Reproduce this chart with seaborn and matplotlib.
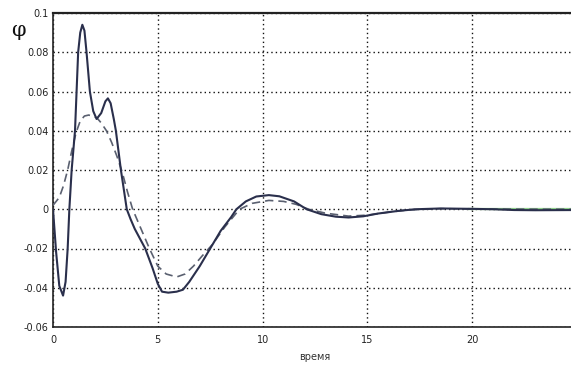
import numpy as np
import pandas as pd
import matplotlib
matplotlib.use("Agg")
import matplotlib.pyplot as plt
import seaborn as sns

# --- data ---
t_solid = [0.0, 0.15, 0.3, 0.48, 0.6, 0.7, 0.78, 0.89, 1.05, 1.2, 1.3, 1.4, 1.5, 1.6, 1.76, 1.92,
           2.08, 2.3, 2.5, 2.62, 2.75, 2.9, 3.0, 3.24, 3.52, 3.7, 3.9, 4.2, 4.4, 4.75, 5.0, 5.2,
           5.5, 5.9, 6.2, 6.5, 7.0, 7.5, 8.0, 8.5, 8.75, 9.2, 9.7, 10.3, 10.8, 11.5, 12.1, 12.8,
           13.5, 14.1, 14.8, 15.5, 16.5, 17.3, 18.5, 20.0, 21.0, 22.0, 23.0, 25.0]
y_solid = [0.000, -0.022, -0.039, -0.044, -0.037, -0.020, 0.000, 0.020, 0.040, 0.080, 0.090, 0.094,
           0.091, 0.080, 0.060, 0.050, 0.046, 0.049, 0.055, 0.0565, 0.054, 0.046, 0.040, 0.020, 0.000,
           -0.005, -0.010, -0.016, -0.020, -0.030, -0.038, -0.042, -0.0425, -0.042, -0.041, -0.037,
           -0.029, -0.020, -0.011, -0.004, 0.000, 0.004, 0.0065, 0.0072, 0.0066, 0.004, 0.000, -0.0025,
           -0.0038, -0.0042, -0.0036, -0.0022, -0.0008, 0.000, 0.0004, 0.0002, 0.0, -0.0004, -0.0005,
           -0.0004]

t_dash = [0.0, 0.3, 0.5, 0.7, 0.9, 1.1, 1.3, 1.5, 1.7, 1.9, 2.1, 2.3, 2.55, 2.8, 3.05, 3.3, 3.55,
          3.8, 4.2, 4.6, 5.0, 5.4, 5.9, 6.3, 6.7, 7.1, 7.6, 8.2, 8.9, 9.5, 10.3, 11.0, 11.6, 12.2,
          13.0, 14.1, 15.0, 16.0, 17.0, 18.5, 20.0, 25.0]
y_dash = [0.002, 0.006, 0.012, 0.020, 0.030, 0.039, 0.045, 0.0475, 0.048, 0.0475, 0.0465, 0.044,
          0.040, 0.034, 0.027, 0.019, 0.009, 0.000, -0.010, -0.020, -0.029, -0.033, -0.0345, -0.033,
          -0.029, -0.024, -0.018, -0.009, 0.000, 0.003, 0.0045, 0.004, 0.0025, 0.000, -0.002,
          -0.0035, -0.003, -0.0015, -0.0003, 0.0003, 0.0001, 0.0]

t_ref = [19.8, 25.0]
y_ref = [0.0, 0.0]

x_ticks = [0, 5, 10, 15, 20, 25]
y_ticks = [-0.06, -0.04, -0.02, 0, 0.02, 0.04, 0.06, 0.08, 0.1]
y_ticklabels = ["-0.06", "-0.04", "-0.02", "0", "0.02", "0.04", "0.06", "0.08", "0.1"]

sns.set_style("white")
plt.rcParams["font.family"] = ["DejaVu Sans"]

fig = plt.figure(figsize=(5.71, 3.65), dpi=100)
ax = fig.add_axes([53 / 571, 1 - 327 / 365, 524 / 571, 314 / 365])

df_s = pd.DataFrame({"t": t_solid, "y": y_solid})
df_d = pd.DataFrame({"t": t_dash, "y": y_dash})
df_r = pd.DataFrame({"t": t_ref, "y": y_ref})

sns.lineplot(data=df_r, x="t", y="y", ax=ax, color="#8fd08a", lw=1.6, zorder=2)
sns.lineplot(data=df_d, x="t", y="y", ax=ax, color="#5a6070", lw=1.2, zorder=3,
             linestyle=(0, (5, 3)))
sns.lineplot(data=df_s, x="t", y="y", ax=ax, color="#2a2f4c", lw=1.5, zorder=4)

ax.set_xlim(0, 25)
ax.set_ylim(-0.06, 0.1)
ax.set_xticks(x_ticks)
ax.set_yticks(y_ticks)
ax.set_yticklabels(y_ticklabels)
ax.tick_params(direction="in", length=3, labelsize=7, colors="#222222")
ax.tick_params(axis="x", pad=6)
ax.tick_params(axis="y", pad=3)
ax.grid(True, color="#111111", linestyle=(0, (1, 2.2)), linewidth=1.0)
for s in ax.spines.values():
    s.set_color("#222222")
    s.set_linewidth(1.2)
ax.spines["top"].set_linewidth(1.6)

ax.set_xlabel("время", fontsize=7, color="#333333", labelpad=5)
ax.set_ylabel("")
fig.text(18 / 571, 1 - 30 / 365, "φ", fontsize=15, family="DejaVu Serif", ha="center", va="center",
         color="#111111")

fig.savefig("out.png", dpi=100, facecolor="white")
